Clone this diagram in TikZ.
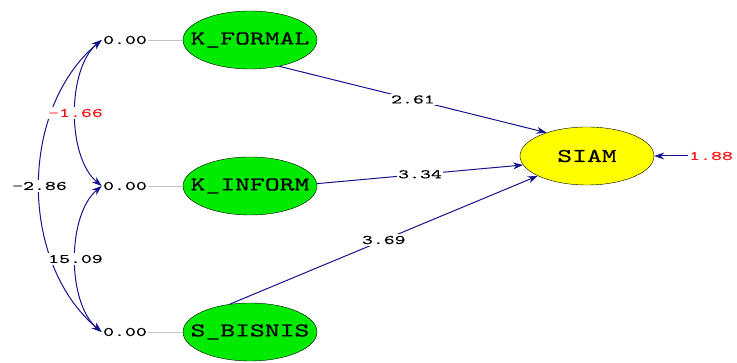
\documentclass[tikz,border=0pt]{standalone}
\usepackage{fontspec}
\newfontfamily\lisrel{lmmono10-regular.otf}[FakeStretch=1.45, FakeBold=0.6]
\newfontfamily\lisrelnum{lmmono10-regular.otf}[FakeStretch=1.6, FakeBold=0.4]
\usetikzlibrary{shapes.geometric, arrows.meta}
\definecolor{pathblue}{RGB}{20,20,140}
\definecolor{latgreen}{RGB}{0,235,0}
\definecolor{latyellow}{RGB}{255,255,0}
\definecolor{valred}{RGB}{255,20,20}
\definecolor{linkgray}{RGB}{195,195,195}

\begin{document}
\begin{tikzpicture}[>={Stealth[length=10pt,width=7pt]},node distance=146pt,line width=1pt,
        latent/.style={ellipse, draw=black, thin, fill=latgreen, minimum width=134pt, minimum height=58pt,
            inner xsep=-40pt, inner ysep=0pt, font=\lisrel\fontsize{19.5}{19.5}\selectfont},
        value/.style={inner sep=1pt, font=\lisrelnum\fontsize{13}{13}\selectfont},
        estimate/.style={value, fill=white, inner sep=1.5pt},
        regpath/.style={->, draw=pathblue},
        cov/.style={<->, draw=pathblue}]
                \useasboundingbox (0,0) rectangle (737pt,363pt);
                \node[latent] (kf) at (250pt,323pt) {K\_FORMAL};
                \node[latent] (ki) [below of = kf] {K\_INFORM};
                \node[latent] (sb) [below of = ki] {S\_BISNIS};
                \node[latent, fill=latyellow, node distance=337pt] (siam) [right of = ki, yshift=30pt] {SIAM};
                \node[value, node distance=125pt] (vf) [left of = kf] {0.00};
                \node[value, node distance=125pt] (vi) [left of = ki] {0.00};
                \node[value, node distance=125pt] (vs) [left of = sb] {0.00};
                \node[value, text=valred, node distance=124pt] (e) [right of = siam] {1.88};
                \path
                (vf) edge [linkgray, thin] (kf)
                (vi) edge [linkgray, thin] (ki)
                (vs) edge [linkgray, thin] (sb)
                (vf.west) edge [cov, bend right=50, looseness=0.95] node[estimate] {-2.86} (vs.west)
                          edge [cov, bend right=50, looseness=0.8] node[estimate, text=valred] {-1.66} (vi.west)
                (vi.west) edge [cov, bend right=50, looseness=0.8] node[estimate] {15.09} (vs.west)
                (kf.-42) edge [regpath] node[estimate] {2.61} (siam.150)
                (ki.2) edge [regpath] node[estimate] {3.34} (siam.188)
                (sb.126) edge [regpath] node[estimate] {3.69} (siam.202)
                (e) edge [regpath] (siam)
                ;
            \end{tikzpicture}
\end{document}
